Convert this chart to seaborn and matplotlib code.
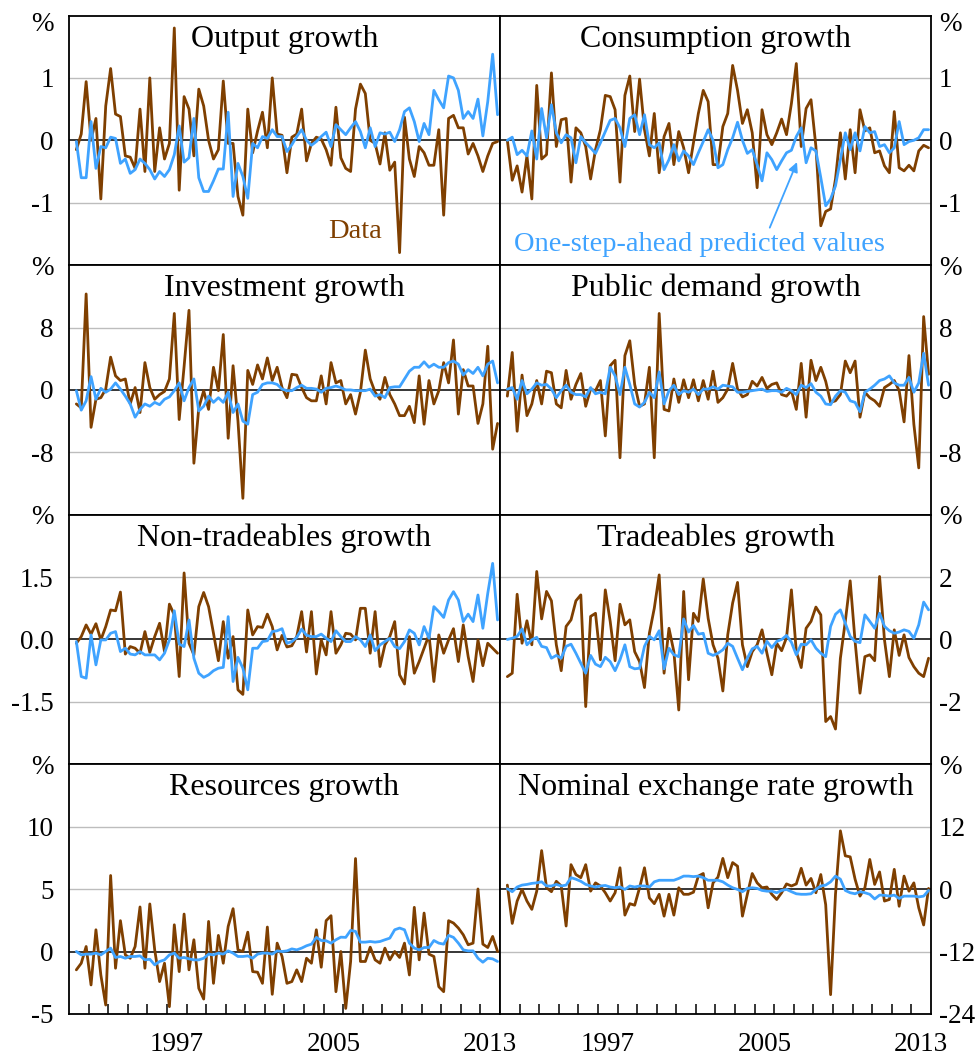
import numpy as np
import pandas as pd
import matplotlib
matplotlib.use("Agg")
import matplotlib.pyplot as plt
import seaborn as sns

# Quarterly sample, 1992 Q2 to 2013 Q4, plotted at mid-quarter
periods = pd.period_range("1992Q2", "2013Q4", freq="Q")
dates = np.array([p.year + (p.quarter - 0.5) / 4 for p in periods])

output_data = [-0.15, 0.1, 0.94, 0.0, 0.35, -0.94, 0.55, 1.15, 0.42, 0.38,
               -0.25, -0.27, -0.45, 0.5, -0.5, 1.0, -0.5, 0.2, -0.3, -0.05,
               1.8, -0.8, 0.7, 0.5, -0.25, 0.82, 0.55, 0.0, -0.3, -0.15,
               0.95, -0.05, -0.05, -0.9, -1.2, 0.5, -0.2, 0.15, 0.45, -0.12,
               1.0, 0.1, 0.08, -0.52, 0.05, 0.1, 0.5, -0.33, -0.05, 0.05,
               0.02, -0.15, -0.4, 0.53, -0.28, -0.45, -0.5, 0.5, 0.9, 0.75,
               0.0, -0.05, -0.38, 0.12, -0.48, -0.35, -1.8, 0.37, -0.3, -0.58,
               -0.1, -0.2, -0.4, -0.4, 0.17, -1.2, 0.35, 0.4, 0.2, 0.2,
               -0.22, -0.05, -0.25, -0.5, -0.25, -0.05, -0.02]
output_pred = [-0.02, -0.6, -0.6, 0.3, -0.45, -0.1, -0.12, 0.05, 0.03, -0.37,
               -0.3, -0.53, -0.47, -0.3, -0.37, -0.47, -0.62, -0.5, -0.58, -0.47,
               -0.23, 0.23, -0.35, -0.28, 0.35, -0.6, -0.82, -0.82, -0.65, -0.46,
               -0.46, 0.45, -0.9, -0.37, -0.58, -0.93, -0.05, -0.12, 0.06, 0.03,
               0.17, 0.06, 0.06, -0.18, -0.07, 0.06, 0.17, 0.0, -0.08, -0.02,
               0.06, 0.13, -0.1, 0.25, 0.17, 0.09, 0.2, 0.3, 0.14, -0.12,
               0.2, -0.1, 0.12, 0.1, 0.13, -0.02, 0.17, 0.46, 0.52, 0.3,
               -0.02, 0.27, 0.09, 0.8, 0.65, 0.52, 1.03, 1.0, 0.8, 0.35,
               0.46, 0.35, 0.66, 0.07, 0.62, 1.38, 0.41]

consumption_data = [0.0, -0.64, -0.41, -0.83, -0.25, -0.94, 0.88, -0.3, -0.23, 1.08,
                    -0.1, 0.33, 0.35, -0.67, 0.2, 0.12, -0.1, -0.62, -0.15, 0.17,
                    0.72, 0.7, 0.49, -0.67, 0.72, 1.03, 0.14, 0.98, 0.17, -0.25,
                    0.43, -0.52, 0.06, 0.27, -0.39, 0.14, -0.12, -0.52, -0.04, 0.43,
                    0.8, 0.62, -0.39, -0.39, 0.22, 0.43, 1.2, 0.8, 0.27, 0.49,
                    0.12, -0.76, 0.49, 0.09, -0.07, 0.12, 0.34, 0.09, 0.59, 1.23,
                    -0.1, 0.51, 0.65, -0.1, -1.37, -1.14, -1.1, -0.62, 0.12, -0.62,
                    0.17, -0.52, 0.49, 0.15, 0.2, -0.2, -0.17, -0.41, -0.52, 0.46,
                    -0.44, -0.49, -0.4, -0.49, -0.17, -0.08, -0.12]
consumption_pred = [0.0, 0.05, -0.23, -0.16, -0.25, 0.15, -0.3, 0.51, 0.04, 0.57,
                    0.12, -0.04, 0.09, 0.04, -0.36, 0.06, -0.04, -0.12, -0.21, -0.04,
                    0.14, 0.32, 0.35, 0.2, -0.1, 0.35, 0.41, 0.09, 0.41, -0.07,
                    -0.12, -0.04, -0.47, -0.31, -0.07, -0.33, -0.17, -0.25, -0.39, -0.2,
                    -0.02, 0.17, 0.0, -0.44, -0.39, -0.15, 0.04, 0.29, 0.0, -0.21,
                    -0.15, -0.39, -0.65, -0.2, -0.31, -0.47, -0.33, -0.2, -0.16, 0.06,
                    0.2, -0.36, -0.12, -0.17, -0.6, -1.05, -0.94, -0.73, -0.31, 0.12,
                    -0.15, 0.12, -0.17, 0.22, 0.12, 0.14, -0.1, -0.07, -0.2, -0.12,
                    0.3, -0.07, -0.02, 0.0, 0.04, 0.17, 0.17]

investment_data = [-1.8, -2.3, 12.3, -4.8, -1.2, -1.0, 0.1, 4.2, 1.8, 1.2,
                   1.4, -1.8, 0.3, -2.9, 3.5, 0.3, -1.2, -0.6, -0.2, 1.4,
                   9.8, -3.8, 3.0, 10.2, -9.4, -2.3, -0.1, -2.5, 2.9, -0.1,
                   7.1, -6.2, 3.1, -4.0, -13.9, 2.5, 0.7, 3.2, 1.4, 4.1,
                   1.2, 2.9, 0.3, -1.0, 2.0, 1.9, 0.3, -1.0, -1.4, -1.4,
                   1.8, -1.8, 3.5, 0.9, 1.2, -1.8, -0.6, -3.1, -0.3, 5.1,
                   1.4, -0.3, -1.2, 1.6, -0.6, -1.8, -3.3, -3.3, -2.1, -4.2,
                   1.8, -4.4, 1.2, -1.8, -0.1, 3.5, 0.9, 6.4, -3.1, 2.6,
                   0.5, 0.5, -4.3, -1.8, 5.6, -7.6, -4.3]
investment_pred = [-0.1, -2.6, -1.4, 1.7, -1.2, 0.2, -0.3, 0.1, 0.9, 0.1,
                   -0.8, -1.8, -3.5, -2.5, -1.8, -2.1, -1.6, -1.9, -1.2, -0.9,
                   -0.1, 0.9, -1.4, 0.3, 1.4, -2.7, -2.1, -0.8, -1.6, -1.0,
                   -1.6, -0.3, -2.9, -1.8, -4.0, -4.4, -0.6, -0.3, 0.7, 0.9,
                   0.9, 0.7, 0.1, -0.1, -0.1, 0.3, 0.6, 0.2, 0.2, 0.1,
                   -0.3, 0.2, 0.3, 0.5, 0.3, 0.0, 0.0, -0.1, -0.1, -0.1,
                   0.1, -0.8, -0.6, -1.0, 0.3, 0.4, 0.4, 1.4, 2.4, 2.9,
                   2.9, 3.6, 2.9, 3.3, 2.9, 2.9, 3.5, 3.7, 3.3, 1.9,
                   2.6, 2.1, 2.9, 1.8, 3.3, 3.7, 0.9]

public_data = [-0.8, 4.8, -5.3, 1.9, -3.3, -1.8, 1.2, -1.8, 2.4, 2.2,
               -1.8, -2.3, 2.5, -1.2, 0.7, 2.1, -2.1, 0.1, -0.1, 1.2,
               -5.9, 3.1, 3.8, -8.7, 4.4, 6.3, 0.7, -2.1, -1.8, 2.9,
               -8.7, 9.8, -2.5, -2.7, 1.4, -1.6, 1.3, -1.0, 1.3, -1.4,
               1.2, -1.2, 2.4, -1.6, -1.0, 0.1, 3.4, 0.1, -0.9, -0.6,
               1.1, 0.5, 1.6, 0.2, 0.7, 0.9, -0.6, -0.8, -0.1, -2.5,
               3.4, -3.5, 3.8, 1.2, 2.9, 1.1, -1.6, -1.4, -0.6, 3.7,
               2.2, 3.7, -3.5, -0.3, -1.0, -1.4, -2.1, 0.3, 0.7, 1.2,
               -0.1, -4.1, 4.4, -4.4, -10.0, 9.4, 2.0]
public_pred = [0.1, 0.3, -1.2, 1.2, -0.5, 0.1, 0.9, 0.6, 0.7, 0.1,
               -1.0, -0.1, 0.6, -0.3, -0.6, -0.6, -0.9, 0.3, -0.5, -0.3,
               -0.5, 2.9, 1.8, -0.6, 2.9, 0.7, -1.8, -2.2, -1.6, -0.3,
               -1.0, 2.3, -1.8, -0.1, 0.6, -0.6, -0.1, -0.3, 0.1, -0.6,
               0.1, 0.1, 0.4, 0.1, 0.6, 0.5, 0.4, -0.3, -0.3, -0.2,
               -0.1, 0.0, 0.1, -0.2, -0.1, -0.1, -0.3, 0.2, -0.1, -0.6,
               0.6, 0.3, 0.8, -0.3, -0.8, -1.8, -1.9, -0.8, -0.1, -0.3,
               -1.4, -1.6, -2.8, -0.3, 0.1, 0.6, 1.2, 1.4, 1.8, 0.9,
               0.6, 0.6, 1.6, -0.3, 0.9, 4.7, 0.6]

nontrade_data = [-0.09, 0.07, 0.35, 0.13, 0.38, -0.01, 0.31, 0.71, 0.69, 1.14,
                 -0.35, -0.17, -0.21, -0.33, 0.19, -0.31, 0.07, 0.39, -0.29, 0.85,
                 0.59, -0.89, 1.6, -0.09, -0.37, 0.79, 1.13, 0.79, 0.15, -0.51,
                 0.43, -0.45, 0.07, -1.21, -1.32, 0.71, 0.11, 0.31, 0.29, 0.61,
                 0.31, -0.25, 0.1, -0.18, -0.15, 0.07, 0.67, -0.3, 0.67, -0.83,
                 -0.01, -0.37, 0.67, -0.33, -0.13, 0.15, 0.13, -0.01, 0.75, 0.75,
                 -0.33, 0.67, -0.65, -0.13, 0.07, 0.43, -0.85, -1.07, 0.07, -0.81,
                 -0.53, -0.21, 0.11, -1.01, 0.11, -0.33, -0.01, 0.26, -0.53, 0.35,
                 -0.41, -1.01, -0.01, -0.63, -0.09, -0.21, -0.33]
nontrade_pred = [-0.05, -0.89, -0.93, 0.11, -0.61, -0.01, -0.01, 0.15, 0.19, -0.29,
                 -0.21, -0.35, -0.37, -0.29, -0.37, -0.37, -0.37, -0.49, -0.33, -0.01,
                 0.69, -0.11, -0.17, 0.47, -0.45, -0.81, -0.91, -0.85, -0.75, -0.69,
                 -0.67, 0.55, -1.01, -0.43, -0.69, -1.21, -0.21, -0.21, -0.05, -0.03,
                 0.19, 0.21, 0.26, -0.09, -0.05, 0.05, 0.25, 0.1, 0.07, 0.07,
                 0.13, 0.03, -0.05, 0.21, 0.07, -0.05, -0.05, 0.07, -0.01, -0.17,
                 0.11, -0.27, -0.13, -0.05, 0.03, -0.17, -0.22, -0.05, 0.23, 0.15,
                 -0.13, 0.31, 0.03, 0.79, 0.67, 0.53, 0.95, 1.15, 0.95, 0.43,
                 0.61, 0.43, 1.07, 0.27, 1.11, 1.83, 0.47]

trade_data = [-1.19, -1.08, 1.45, -0.12, 0.6, -0.17, 2.18, 0.66, 1.54, 1.24,
              -0.17, -1.0, 0.42, 0.63, 1.24, 1.43, -2.15, 0.74, 0.84, -0.65,
              1.59, 0.58, -0.68, 1.13, 0.47, 0.63, -0.39, -0.71, -1.54, 0.2,
              1.0, 2.07, -1.08, 0.36, -0.39, -2.26, 1.54, -1.29, 0.84, 0.58,
              1.94, 0.68, -0.17, -0.6, -1.65, 0.15, 1.17, 1.83, -0.17, -0.87,
              -0.39, -0.17, 0.31, -0.44, -1.13, -0.12, -0.36, 0.06, 1.59, -0.39,
              -0.9, 0.36, 0.58, 1.04, 0.79, -2.63, -2.47, -2.87, -0.6, 0.58,
              1.88, -0.06, -1.72, -0.55, -0.49, -0.68, 2.02, -0.01, -1.19, 0.31,
              -0.51, 0.15, -0.58, -0.87, -1.08, -1.19, -0.6]
trade_pred = [0.0, 0.04, 0.1, 0.34, -0.17, -0.01, 0.07, -0.22, -0.26, -0.6,
              -0.51, -0.6, -0.22, -0.15, -0.44, -0.76, -1.08, -0.51, -0.79, -0.87,
              -0.57, -0.71, -1.0, -0.65, -0.17, -0.87, -0.94, -0.92, -0.22, 0.1,
              -0.01, 0.28, -0.94, -0.28, -0.49, -0.55, 0.66, 0.24, 0.45, 0.17,
              0.2, -0.44, -0.51, -0.44, -0.33, -0.12, -0.22, -0.6, -0.97, -0.6,
              -0.3, -0.22, -0.44, -0.06, -0.26, -0.06, 0.0, 0.13, -0.09, -0.49,
              -0.15, -0.17, -0.01, -0.28, -0.44, -0.55, 0.42, 0.81, 0.95, 0.52,
              0.1, -0.06, -0.1, 0.79, 0.58, 0.36, 0.84, 0.42, 0.28, 0.2,
              0.24, 0.31, 0.26, 0.04, 0.47, 1.2, 0.95]

resources_data = [-1.47, -0.94, 0.4, -2.68, 1.74, -1.88, -4.29, 6.09, -1.34, 2.47,
                  -0.27, -0.54, 0.4, 3.57, -1.34, 3.81, 0.13, -2.41, -0.94, -4.42,
                  2.14, -1.61, 3.0, -1.47, 0.94, -2.95, -3.81, 2.41, -2.55, 1.29,
                  -0.94, 2.01, 3.43, 0.13, 0.0, 1.55, -1.61, -1.66, -2.55, 1.96,
                  -3.43, 0.67, -0.4, -2.55, -2.41, -1.47, -2.41, -0.54, -0.94, 1.74,
                  -1.26, 2.47, 2.87, -3.22, 0.0, -4.56, -0.8, 7.45, -0.8, -0.8,
                  0.35, -0.67, -0.94, 0.27, -0.67, 0.0, -0.48, 0.67, -1.88, 3.54,
                  -0.67, 3.08, -0.21, -0.4, -2.82, -3.22, 2.47, 2.28, 1.88, 1.34,
                  0.54, 0.67, 5.01, 0.59, 0.32, 1.21, 0.0]
resources_pred = [0.0, -0.27, -0.21, -0.21, -0.13, -0.27, 0.0, 0.27, -0.48, -0.4,
                  -0.54, -0.4, -0.4, -0.35, -0.67, -0.62, -1.07, -0.8, -0.67, -0.27,
                  -0.13, -0.54, -0.48, -0.59, -0.67, -0.67, -0.54, -0.21, -0.27, -0.13,
                  -0.21, 0.05, -0.13, -0.4, -0.4, -0.35, -0.54, -0.21, -0.13, -0.13,
                  -0.21, 0.05, 0.0, 0.05, 0.21, 0.13, 0.27, 0.46, 0.59, 1.13,
                  0.88, 0.86, 0.67, 0.94, 1.15, 1.13, 1.69, 1.61, 0.75, 0.75,
                  0.8, 0.75, 0.8, 0.94, 1.07, 1.74, 1.88, 1.74, 0.67, 0.27,
                  0.13, 0.32, 0.32, 0.88, 0.67, 0.59, 1.29, 1.13, 0.67, 0.13,
                  0.05, 0.05, -0.54, -0.86, -0.54, -0.59, -0.8]

exchange_data = [0.77, -6.6, -2.3, -0.06, -2.3, -3.9, -0.4, 7.4, 0.26, -0.5,
                 1.5, 0.6, -7.1, 4.7, 2.8, 2.2, 4.7, -0.4, 1.2, 0.6,
                 -0.7, -2.3, -0.7, 4.1, -5.0, -2.8, -3.1, 0.26, 4.1, -1.7,
                 -2.8, -1.0, -5.2, -1.0, -5.0, 0.26, -1.0, -1.0, -0.6, 2.5,
                 3.0, -3.6, 1.2, 2.3, 5.9, 2.2, 5.1, 4.4, -5.2, -1.0,
                 3.0, 1.2, 0.26, 0.4, -1.0, -2.0, -0.7, 1.0, 0.6, 1.0,
                 4.0, 0.77, 2.05, -0.7, 2.8, -3.0, -20.3, -1.0, 11.2, 6.4,
                 6.2, 1.9, -1.35, 0.26, 5.7, 0.9, 3.3, -2.3, -2.0, 3.8,
                 -3.3, 2.5, -0.4, 1.2, -3.6, -6.9, 0.13]
exchange_pred = [0.06, -0.5, 0.4, 0.77, 0.9, 1.1, 1.2, 1.4, 0.6, 0.6,
                 0.9, 0.6, 0.77, 2.2, 1.9, 1.5, 0.9, 0.6, 0.4, 0.6,
                 0.7, 0.4, 0.26, 0.4, -0.06, 0.6, 0.4, 0.6, 0.6, 0.4,
                 1.4, 1.7, 1.7, 1.7, 1.7, 2.05, 2.5, 2.5, 2.4, 2.5,
                 2.2, 1.7, 1.7, 1.7, 1.4, 0.77, 0.26, -0.06, -0.5, 0.13,
                 0.26, 0.13, -0.26, -0.4, -0.4, -0.7, -0.26, -0.06, -0.5, -0.9,
                 -1.0, -1.0, -0.9, -0.06, 0.6, 0.77, 1.4, 2.5, 1.9, -0.26,
                 -0.7, -0.9, -0.5, -0.7, -1.0, -1.9, -1.15, -1.2, -1.35, -1.15,
                 -1.8, -1.35, -1.35, -1.35, -1.5, -1.35, -0.26]

titles = ["Output growth", "Consumption growth",
          "Investment growth", "Public demand growth",
          "Non-tradeables growth", "Tradeables growth",
          "Resources growth", "Nominal exchange rate growth"]
actual = [output_data, consumption_data, investment_data, public_data,
          nontrade_data, trade_data, resources_data, exchange_data]
predicted = [output_pred, consumption_pred, investment_pred, public_pred,
             nontrade_pred, trade_pred, resources_pred, exchange_pred]
y_limits = [(-2, 2), (-2, 2), (-16, 16), (-16, 16),
            (-3, 3), (-4, 4), (-5, 15), (-24, 24)]
y_ticks = [[-1, 0, 1], [-1, 0, 1], [-8, 0, 8], [-8, 0, 8],
           [-1.5, 0, 1.5], [-2, 0, 2], [-5, 0, 5, 10], [-24, -12, 0, 12]]
y_ticklabels = [["-1", "0", "1"], ["-1", "0", "1"], ["-8", "0", "8"], ["-8", "0", "8"],
                ["-1.5", "0.0", "1.5"], ["-2", "0", "2"], ["-5", "0", "5", "10"],
                ["-24", "-12", "0", "12"]]
year_ticks = list(range(1993, 2014))
year_labels = ["1997", "2005", "2013"]

BROWN = "#7F3F00"
BLUE = "#3FA3FF"
GRID = "#BDBDBD"

sns.set_theme(style="white")
plt.rcParams["font.family"] = ["Liberation Serif", "DejaVu Serif"]

W, H = 977, 1055
fig = plt.figure(figsize=(W / 100, H / 100), dpi=100)
col_left = [69, 500]
col_w = 431
row_top = 15.5
row_h = 249.6

axes = []
for k in range(8):
    r, c = divmod(k, 2)
    ax = fig.add_axes([col_left[c] / W, 1 - (row_top + row_h * (r + 1)) / H,
                       col_w / W, row_h / H])
    axes.append(ax)
    lo, hi = y_limits[k]

    for t in y_ticks[k]:
        if t != 0 and lo < t < hi:
            ax.axhline(t, color=GRID, lw=1.0, zorder=0)
    ax.axhline(0, color="black", lw=1.1, zorder=1)

    sns.lineplot(x=dates, y=actual[k], ax=ax, color=BROWN, linewidth=2.0, zorder=3)
    sns.lineplot(x=dates, y=predicted[k], ax=ax, color=BLUE, linewidth=2.0, zorder=4)

    ax.set_xlim(1992, 2014)
    ax.set_ylim(lo, hi)
    ax.set_xlabel("")
    ax.set_ylabel("")

    ax.text(0.5, 1 - 31 / row_h, titles[k], transform=ax.transAxes,
            ha="center", va="baseline", fontsize=23, color="black")

    # unit label sits at the top of each axis (a little lower on the first row)
    unit_pos = hi - (0.025 * (hi - lo) if r == 0 else 0)
    ax.set_yticks(y_ticks[k] + [unit_pos], y_ticklabels[k] + ["%"])
    if c == 0:
        ax.yaxis.tick_left()
        ax.tick_params(axis="y", length=0, pad=11, labelsize=19.5, colors="black")
    else:
        ax.yaxis.tick_right()
        ax.tick_params(axis="y", length=0, pad=5.5, labelsize=19.5, colors="black")

    if r == 3:
        ax.set_xticks(year_ticks)
        ax.tick_params(axis="x", which="major", direction="in", length=7, width=1.1,
                       color="black", labelbottom=False, bottom=True)
        ax.set_xticks([int(y) + 0.5 for y in year_labels], year_labels, minor=True)
        ax.tick_params(axis="x", which="minor", length=0, pad=13, labelsize=19.5,
                       colors="black", bottom=True)
    else:
        ax.set_xticks([])

    for side in ["left", "right", "top", "bottom"]:
        ax.spines[side].set_color("black")
        ax.spines[side].set_linewidth(1.3)
        ax.spines[side].set_visible(True)

# Series labels
axes[0].text(2006.6, -1.57, "Data", color=BROWN, fontsize=20.5,
             ha="center", va="baseline")
axes[1].text(2002.2, -1.77, "One-step-ahead predicted values", color=BLUE,
             fontsize=20.5, ha="center", va="baseline")
axes[1].annotate("", xy=(2007.16, -0.35), xytext=(2005.77, -1.40),
                 arrowprops=dict(arrowstyle="-|>", color=BLUE, lw=1.3,
                                 mutation_scale=14, shrinkA=0, shrinkB=0))

fig.savefig("out.png", dpi=100)
